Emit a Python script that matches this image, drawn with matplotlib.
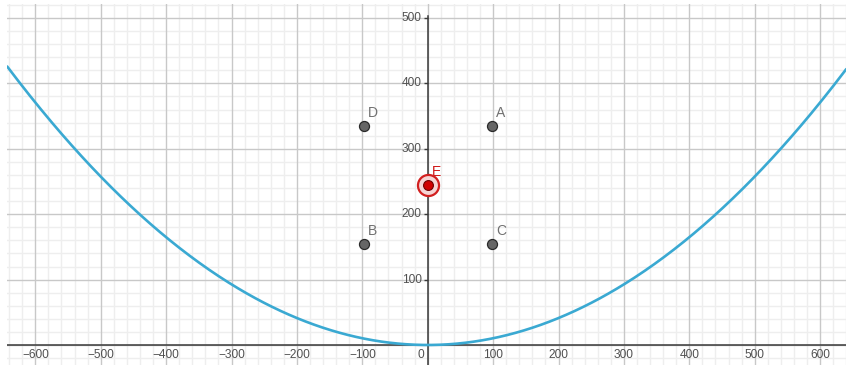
import numpy as np
import matplotlib
matplotlib.use("Agg")
import matplotlib.pyplot as plt
from matplotlib.markers import TICKLEFT

# ---- data ----
parabola_coeff = 0.00103          # y = a * x^2
x_range = (-643, 640)
point_names = ["A", "B", "C", "D"]
point_x = [98, -98, 98, -98]
point_y = [335, 155, 155, 335]
e_name = "E"
e_x = 0
e_y = 245
x_ticks = [-600, -500, -400, -300, -200, -100, 0, 100, 200, 300, 400, 500, 600]
y_ticks = [100, 200, 300, 400, 500]

W, H = 846, 365
fig = plt.figure(figsize=(W / 100, H / 100), dpi=100)
ax = fig.add_axes([7 / W, 0, 839 / W, 361 / H])
ax.set_xlim(-643.3, 639.6)
ax.set_ylim(-30.6, 521.4)
for s in ax.spines.values():
    s.set_visible(False)
ax.set_xticks([])
ax.set_yticks([])

# grid
for gx in np.arange(-640, 641, 20):
    major = gx % 100 == 0
    ax.axvline(gx, color="#c8c8c8" if major else "#eeeeee", lw=1.0, zorder=0.5 if major else 0)
for gy in np.arange(-20, 521, 20):
    major = gy % 100 == 0
    ax.axhline(gy, color="#c8c8c8" if major else "#eeeeee", lw=1.0, zorder=0.5 if major else 0)

# axes lines
ax.axhline(0, color="#3a3a3a", lw=1.1, zorder=1)
ax.plot([0, 0], [-40, 503], color="#3a3a3a", lw=1.1, zorder=1)

lbl_color = "#505050"
font = "Liberation Sans"
for t in x_ticks:
    txt = str(t).replace("-", "\u2212")
    dx = -7 if t == 0 else 0
    ax.annotate(txt, (t, 0), xytext=(dx, -10), textcoords="offset pixels",
                ha="center", va="center", fontsize=8.6, color=lbl_color, family=font)
for t in y_ticks:
    ax.annotate(str(t), (0, t), xytext=(-6, 0), textcoords="offset pixels",
                ha="right", va="center", fontsize=8.6, color=lbl_color, family=font)
    ax.plot([0], [t], marker=TICKLEFT, color="#3a3a3a", markersize=3, zorder=1)

# parabola
xs = np.linspace(x_range[0], x_range[1], 600)
ax.plot(xs, parabola_coeff * xs ** 2, color="#3aa9d2", lw=1.9, zorder=3,
        solid_capstyle="round")

# points
ax.scatter(point_x, point_y, s=52, c="#666666", edgecolors="#2a2a2a",
           linewidths=0.9, zorder=4)
for n, px, py in zip(point_names, point_x, point_y):
    ax.annotate(n, (px, py), xytext=(9, 13), textcoords="offset pixels",
                ha="center", va="center", fontsize=10, color="#707070", family=font)

# E point with halo
ax.scatter([e_x], [e_y], s=230, c="#f6d5d5", edgecolors="#d22020",
           linewidths=1.6, zorder=4)
ax.scatter([e_x], [e_y], s=50, c="#d00000", edgecolors="#700000",
           linewidths=0.8, zorder=5)
ax.annotate(e_name, (e_x, e_y), xytext=(9, 13), textcoords="offset pixels",
            ha="center", va="center", fontsize=10, color="#d01818", family=font)

fig.savefig("out.png", dpi=100, facecolor="white")
